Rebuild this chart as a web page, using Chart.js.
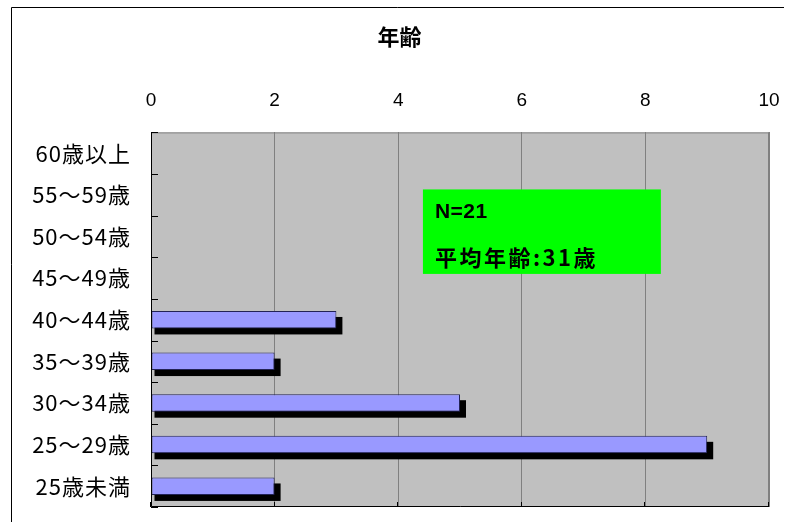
<!DOCTYPE html>
<html><head><meta charset="utf-8">
<script src="https://cdn.jsdelivr.net/npm/chart.js@4/dist/chart.umd.min.js"></script>
<style>html,body{margin:0;padding:0;background:#fff}#wrap{width:786px;height:522px}</style>
</head><body><div id="wrap"><canvas id="c" width="786" height="522"></canvas></div>
<script>
const titleText = '年齢';
const categories = ['60歳以上','55～59歳','50～54歳','45～49歳','40～44歳','35～39歳','30～34歳','25～29歳','25歳未満'];
const counts = [0,0,0,0,3,2,5,9,2];
const xTicks = [0,2,4,6,8,10];
const noteLines = ['N=21','平均年齢:31歳'];

const FONT = "'Noto Sans CJK JP','Noto Sans',sans-serif";
const LATIN = "'Liberation Sans',Arial,sans-serif";

function frame(c){
  c.save();
  c.strokeStyle='#000'; c.lineWidth=1;
  c.beginPath(); c.moveTo(11.5,522); c.lineTo(11.5,7.5); c.lineTo(784,7.5); c.stroke();
  c.restore();
}

const decor = {
  id:'decor',
  beforeDraw(chart){
    const c = chart.ctx, a = chart.chartArea;
    c.letterSpacing = '0px';
    c.save();
    c.fillStyle='#fff'; c.fillRect(0,0,chart.width,chart.height);
    c.fillStyle='#C0C0C0'; c.fillRect(a.left,a.top,a.right-a.left,a.bottom-a.top);
    c.restore();
  },
  beforeDatasetsDraw(chart){
    const c = chart.ctx;
    const meta = chart.getDatasetMeta(0);
    c.save(); c.fillStyle='#000';
    meta.data.forEach((el,i)=>{
      if(!counts[i]) return;
      const h = el.height;
      c.fillRect(el.base+3, el.y - h/2 + 6, (el.x+6)-(el.base+3), h);
    });
    c.restore();
  },
  afterDatasetsDraw(chart){
    chart.ctx.letterSpacing = '1px';
  },
  afterDraw(chart){
    const c = chart.ctx, a = chart.chartArea;
    c.letterSpacing = '0px';
    frame(c);
    const xs = chart.scales.x, ys = chart.scales.y;
    c.save();
    c.lineWidth=1;
    c.strokeStyle='#808080';
    c.beginPath(); c.moveTo(a.left,a.top+0.5); c.lineTo(a.right,a.top+0.5); c.stroke();
    c.beginPath(); c.moveTo(a.right-0.5,a.top); c.lineTo(a.right-0.5,a.bottom); c.stroke();
    c.strokeStyle='#000';
    c.beginPath(); c.moveTo(a.left+0.5,a.top); c.lineTo(a.left+0.5,a.bottom-0.5); c.lineTo(a.right,a.bottom-0.5); c.stroke();
    c.beginPath();
    for(let i=0;i<=categories.length;i++){
      const y = Math.round(ys.getPixelForValue(i-0.5))+0.5;
      c.moveTo(a.left,y); c.lineTo(a.left+7,y);
    }
    xTicks.forEach(v=>{
      const x = Math.round(xs.getPixelForValue(v))-0.5;
      c.moveTo(x,a.bottom); c.lineTo(x,a.bottom-5);
    });
    c.stroke();
    const bx0 = xs.getPixelForValue(4.4), bx1 = xs.getPixelForValue(8.25);
    const by0 = ys.getPixelForValue(0.87), by1 = ys.getPixelForValue(2.9);
    c.fillStyle='#00FF00';
    c.fillRect(bx0,by0,bx1-bx0,by1-by0);
    c.fillStyle='#000';
    c.textBaseline='middle'; c.textAlign='left';
    c.font = "bold 21px "+LATIN;
    c.letterSpacing = '0.5px';
    c.fillText(noteLines[0], bx0+12, by0+23);
    c.font = "bold 22px "+FONT;
    c.letterSpacing = '2.5px';
    c.fillText(noteLines[1], bx0+12, by0+68);
    c.restore();
    c.letterSpacing = '0px';
  }
};

function zeroPad(s){ s.paddingTop=0; s.paddingBottom=0; s.paddingLeft=0; s.paddingRight=0; }

new Chart(document.getElementById('c'),{
  type:'bar',
  data:{labels:categories,datasets:[{data:counts,backgroundColor:'#9999FF',borderColor:'#222255',borderWidth:1,borderSkipped:false,categoryPercentage:1,barPercentage:0.42}]},
  options:{
    indexAxis:'y',responsive:false,animation:false,devicePixelRatio:1,
    layout:{padding:{left:30,right:17,top:0,bottom:15}},
    plugins:{
      legend:{display:false},tooltip:{enabled:false},
      title:{display:true,text:titleText,color:'#000',font:{family:FONT,size:22,weight:'bold'},padding:{top:23,bottom:40}}
    },
    scales:{
      x:{position:'top',min:0,max:10,
        afterBuildTicks(s){ s.ticks = xTicks.map(v=>({value:v})); },
        afterFit(s){ s.height = 43; zeroPad(s); },
        ticks:{color:'#000',font:{family:LATIN,size:19},padding:20,maxRotation:0},
        grid:{color:'#808080',drawTicks:false},border:{display:false}},
      y:{afterFit(s){ s.width = 121; zeroPad(s); },
        ticks:{color:'#000',font:{family:FONT,size:22},padding:20,z:1},
        grid:{display:false,drawTicks:false},border:{display:false}}
    }
  },
  plugins:[decor]
});
</script></body></html>
